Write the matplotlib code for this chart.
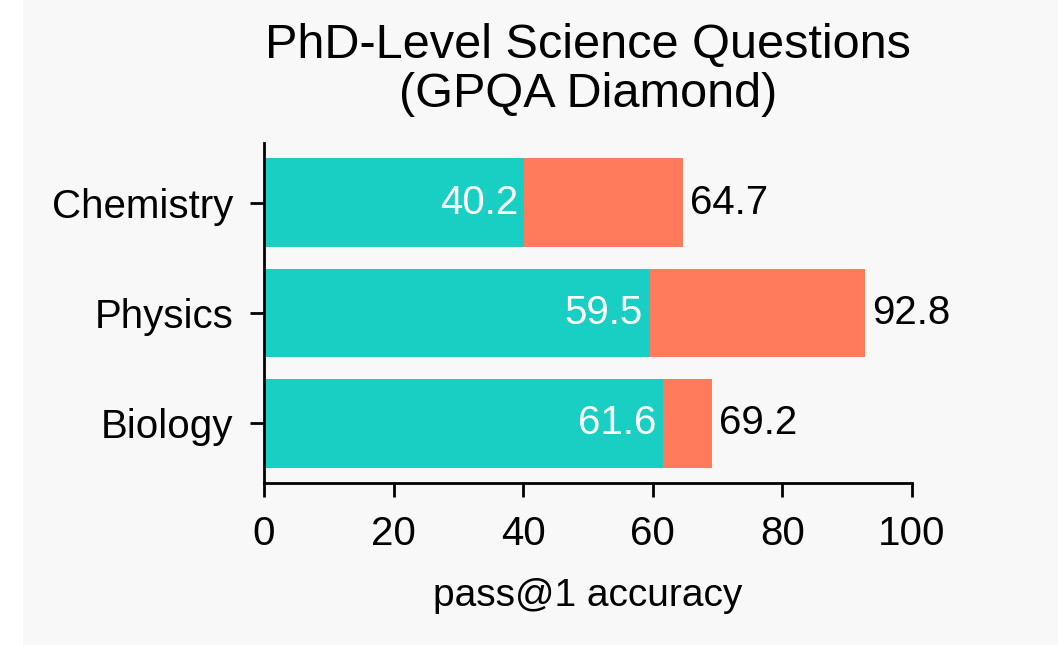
import matplotlib.pyplot as plt
import matplotlib.patches as patches
import numpy as np

subjects = ['Biology', 'Physics', 'Chemistry']
gpt4o = [61.6, 59.5, 40.2]
o1 = [69.2, 92.8, 64.7]

teal = '#19cfc4'
coral = '#ff7b5c'
bg = '#f8f8f8'

plt.rcParams['font.family'] = ['Liberation Sans', 'DejaVu Sans']

fig = plt.figure(figsize=(10.58, 6.45), dpi=100, facecolor='white')
fig.patches.append(patches.Rectangle((23/1058, 0), 1, 1, transform=fig.transFigure,
                                     facecolor=bg, edgecolor='none', zorder=-10))
ax = fig.add_axes([264/1058, 1-483/645, (912-264)/1058, (483-143)/645])
ax.set_facecolor(bg)

y = np.arange(len(subjects))
ax.barh(y, o1, height=0.8, color=coral)
ax.barh(y, gpt4o, height=0.8, color=teal)

for i in range(len(subjects)):
    ax.text(gpt4o[i] - 1, y[i], str(gpt4o[i]), color='white', fontsize=29,
            ha='right', va='center')
    ax.text(o1[i] + 1, y[i], str(o1[i]), color='black', fontsize=29,
            ha='left', va='center')

ax.set_xlim(0, 100)
ax.set_xticks([0, 20, 40, 60, 80, 100])
ax.set_yticks(y)
ax.set_yticklabels(subjects)
ax.tick_params(axis='y', labelsize=29, width=2, length=10, pad=12)
ax.tick_params(axis='x', labelsize=29, width=2, length=10, pad=13)
ax.spines['top'].set_visible(False)
ax.spines['right'].set_visible(False)
ax.spines['left'].set_linewidth(2)
ax.spines['bottom'].set_linewidth(2)
ax.set_xlabel('pass@1 accuracy', fontsize=28, labelpad=18)
ax.set_title('PhD-Level Science Questions\n(GPQA Diamond)', fontsize=35,
             linespacing=1.1, pad=26)

fig.savefig('out.png', dpi=100, facecolor=fig.get_facecolor())
